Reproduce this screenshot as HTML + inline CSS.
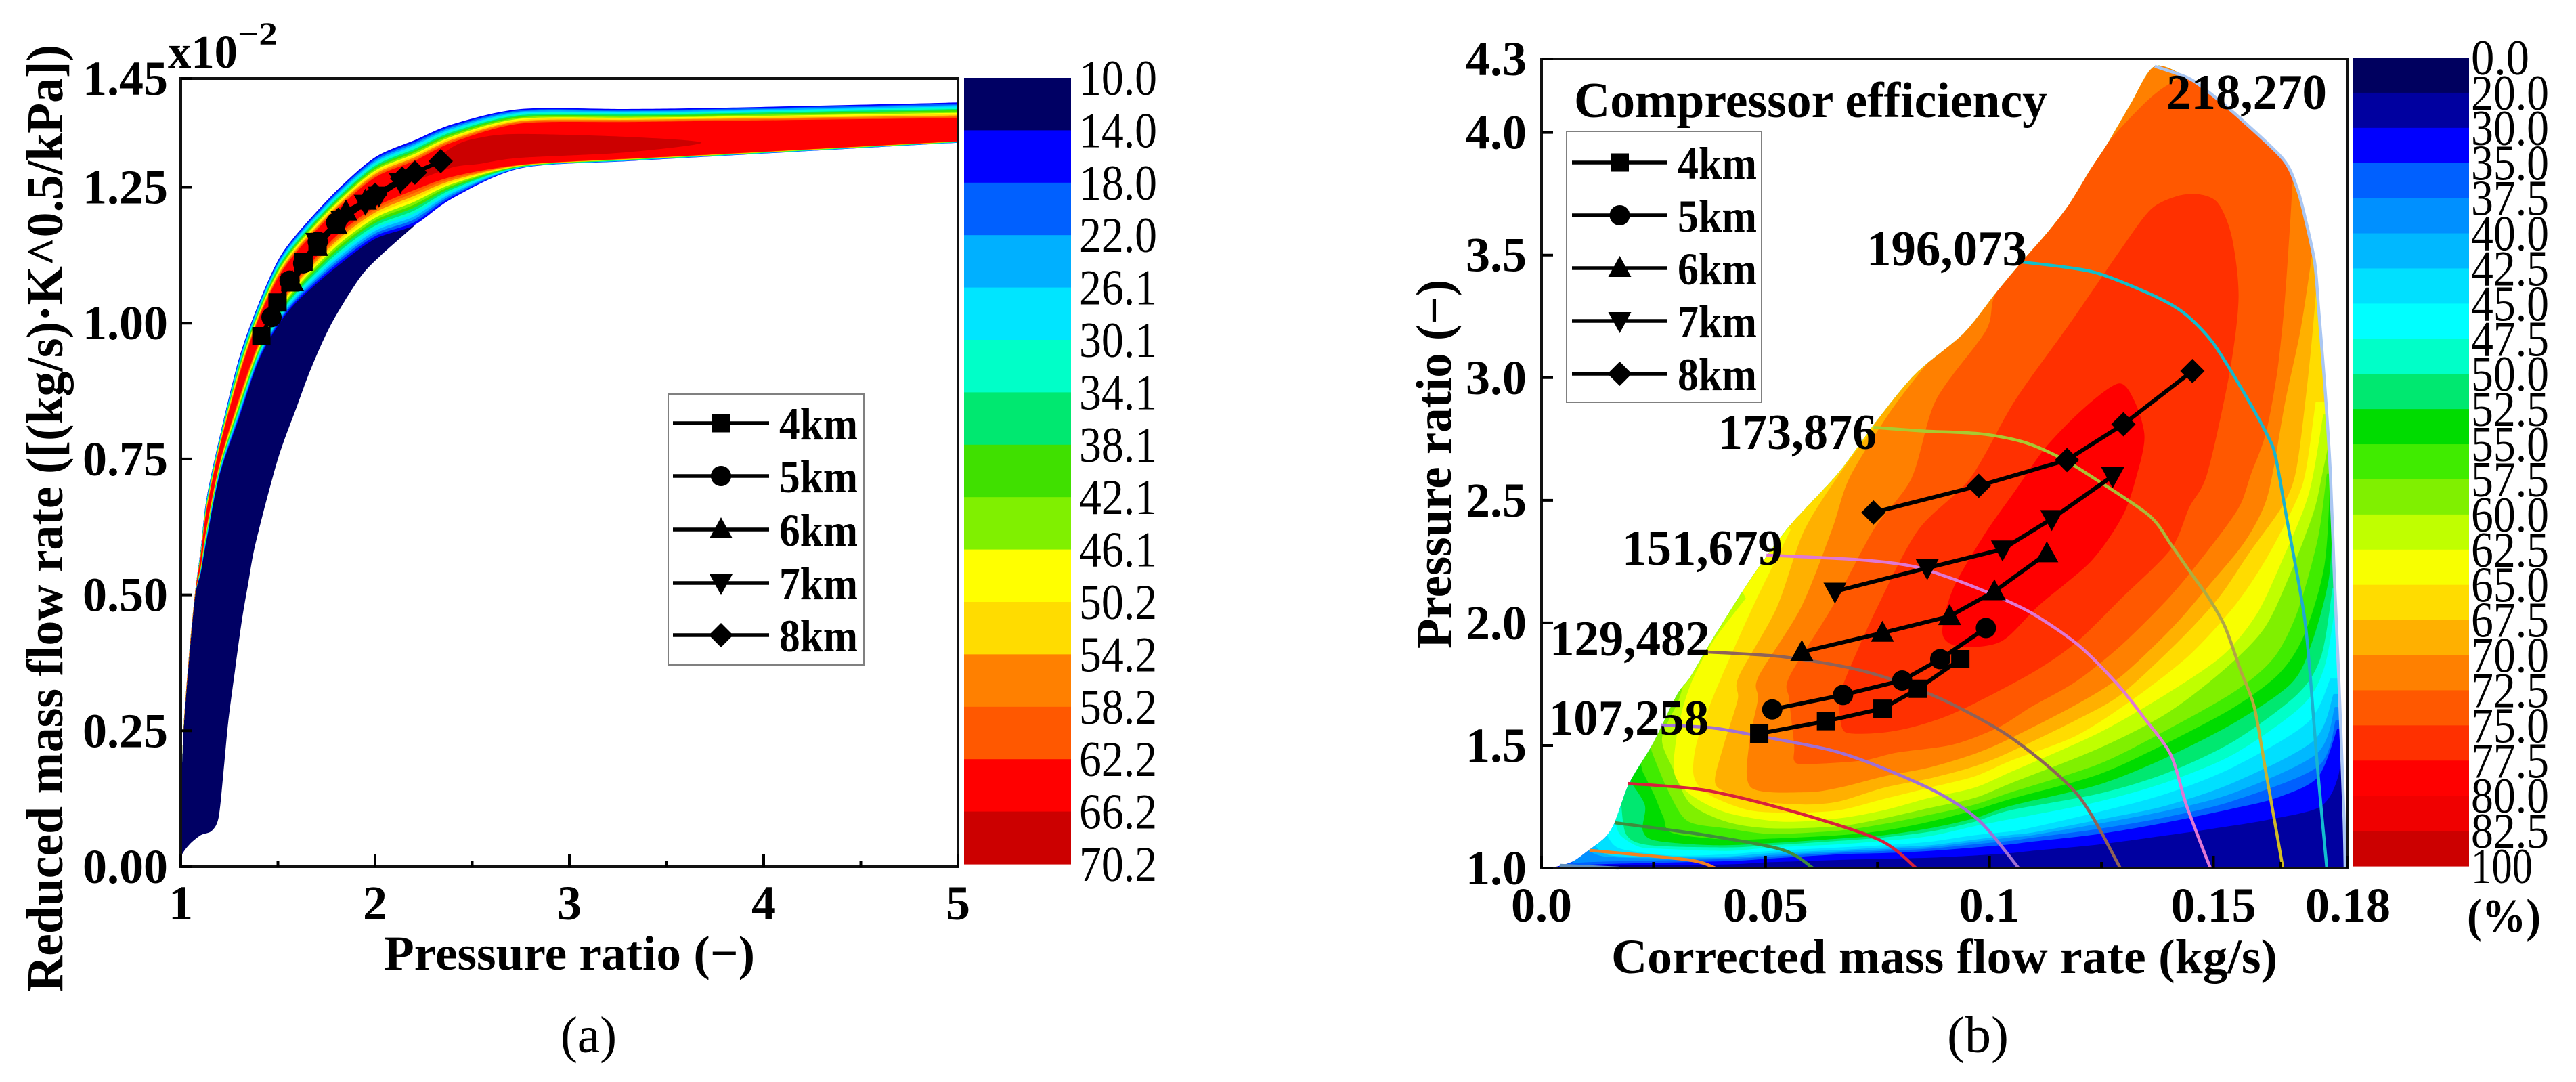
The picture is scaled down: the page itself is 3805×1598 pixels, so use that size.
<!DOCTYPE html>
<html lang="en">
<head>
<meta charset="utf-8">
<title>Turbine and compressor efficiency maps</title>
<style>
html,body{margin:0;padding:0;background:#fff;width:3805px;height:1598px;overflow:hidden}
svg{display:block}
text{font-family:"Liberation Serif",serif;font-weight:bold;fill:#000}
</style>
</head>
<body>
<svg id="fig" xmlns="http://www.w3.org/2000/svg" width="3805" height="1598" viewBox="0 0 3805 1598">
  <defs>
    <clipPath id="envelopeClip"><path id="envelopeClipPath"></path></clipPath>
    <linearGradient id="grad173" gradientUnits="userSpaceOnUse" x1="0" y1="630" x2="0" y2="1282">
      <stop offset="0" stop-color="#a8cc30"/><stop offset="0.5" stop-color="#b0a048"/><stop offset="1" stop-color="#d8c020"/>
    </linearGradient>
    <linearGradient id="grad196" gradientUnits="userSpaceOnUse" x1="0" y1="387" x2="0" y2="1282">
      <stop offset="0" stop-color="#10c0cc"/><stop offset="0.6" stop-color="#20a8d0"/><stop offset="1" stop-color="#10c0d0"/>
    </linearGradient>
  </defs>
  <g id="panelA"></g>
  <g id="panelB"></g>

  <text x="567" y="1432" font-size="72" textLength="548" lengthAdjust="spacingAndGlyphs">Pressure ratio (−)</text>
  <text x="92" y="1465" font-size="76" transform="rotate(-90 92 1465)" textLength="1399" lengthAdjust="spacingAndGlyphs">Reduced mass flow rate ([(kg/s)·K^0.5/kPa])</text>
  <text x="248" y="100" font-size="70" textLength="103" lengthAdjust="spacingAndGlyphs">x10</text>
  <text x="351" y="66" font-size="48" textLength="59" lengthAdjust="spacingAndGlyphs">−2</text>
  <text x="828" y="1554" font-size="76" style="font-weight:normal" textLength="83" lengthAdjust="spacingAndGlyphs">(a)</text>

  <text x="2380" y="1437" font-size="72" textLength="984" lengthAdjust="spacingAndGlyphs">Corrected mass flow rate (kg/s)</text>
  <text x="2143" y="958" font-size="74" transform="rotate(-90 2143 958)" textLength="545" lengthAdjust="spacingAndGlyphs">Pressure ratio (−)</text>
  <text x="2325" y="173" font-size="74" textLength="699" lengthAdjust="spacingAndGlyphs">Compressor efficiency</text>
  <text x="3200" y="161" font-size="74" textLength="237" lengthAdjust="spacingAndGlyphs">218,270</text>
  <text x="2757" y="392" font-size="74" textLength="237" lengthAdjust="spacingAndGlyphs">196,073</text>
  <text x="2538" y="663" font-size="74" textLength="234" lengthAdjust="spacingAndGlyphs">173,876</text>
  <text x="2396" y="834" font-size="74" textLength="237" lengthAdjust="spacingAndGlyphs">151,679</text>
  <text x="2289" y="968" font-size="74" textLength="237" lengthAdjust="spacingAndGlyphs">129,482</text>
  <text x="2288" y="1085" font-size="74" textLength="236" lengthAdjust="spacingAndGlyphs">107,258</text>
  <text x="3644" y="1376" font-size="70" textLength="109" lengthAdjust="spacingAndGlyphs">(%)</text>
  <text x="2876" y="1554" font-size="76" style="font-weight:normal" textLength="91" lengthAdjust="spacingAndGlyphs">(b)</text>
</svg>

<script>
/* ---------- Panel (a): axis ticks and colour scale ---------- */
const turbineXTicks = [1, 2, 3, 4, 5];
const turbineXMinorTicks = [1.5, 2.5, 3.5, 4.5];
const turbineYTicks = [0, 0.25, 0.5, 0.75, 1.0, 1.25, 1.45];
const turbineYTickLabels = ["0.00", "0.25", "0.50", "0.75", "1.00", "1.25", "1.45"];
const turbineScaleLabels = ["10.0","14.0","18.0","22.0","26.1","30.1","34.1","38.1","42.1","46.1","50.2","54.2","58.2","62.2","66.2","70.2"];
const turbineScaleFills = ["#000064","#0000ff","#0060ff","#00b0ff","#00e5ff","#00ffc8","#00e870","#40e000","#80f000","#ffff00","#ffdc00","#ff8000","#ff5800","#ff0000","#cc0000"];

/* Panel (a): map envelope (pressure ratio vs reduced flow) */
const turbinePR = [1.005,1.016,1.045,1.074,1.103,1.132,1.2,1.3,1.4,1.5,1.6,1.8,2.0,2.2,2.4,2.75,3.3,3.75,5.0];
const turbineFlowUpper = [0.171,0.265,0.399,0.505,0.585,0.675,0.79,0.935,1.035,1.115,1.165,1.243,1.305,1.336,1.366,1.394,1.394,1.396,1.406];
const turbineFlowLower = [0.171,0.26,0.39,0.498,0.54,0.598,0.72,0.825,0.93,0.995,1.04,1.103,1.155,1.18,1.23,1.285,1.298,1.307,1.332];
const turbineFlowRedUpper = [0.171,0.264,0.396,0.503,0.57,0.652,0.77,0.90,1.005,1.08,1.13,1.205,1.265,1.295,1.33,1.365,1.368,1.37,1.375];
const turbineFlowRedLower = [0.171,0.262,0.393,0.5,0.555,0.625,0.745,0.865,0.965,1.035,1.085,1.165,1.218,1.25,1.273,1.292,1.303,1.311,1.335];
const turbineCorePR = [2.2,2.404,2.537,2.739,3.28,3.68,3.28,2.739,2.537,2.404,2.2];
const turbineCoreFlow = [1.27,1.325,1.341,1.348,1.343,1.332,1.314,1.304,1.293,1.287,1.262];
const turbineLowEffPR = [1.0,1.005,1.045,1.103,1.16,1.195,1.22,1.244,1.279,1.314,1.348,1.387,1.5,1.598,1.672,1.777,1.923,2.031,2.205];
const turbineLowEffFlow = [0.0,0.021,0.041,0.058,0.066,0.091,0.174,0.265,0.361,0.452,0.523,0.598,0.75,0.847,0.918,1.0,1.084,1.125,1.18];

/* Panel (a): operating points per altitude */
const turbine4kmPR = [1.415,1.498,1.564,1.632,1.704];
const turbine4kmFlow = [0.976,1.038,1.075,1.113,1.146];
const turbine5kmPR = [1.467,1.56,1.63,1.705,1.80];
const turbine5kmFlow = [1.011,1.078,1.11,1.15,1.185];
const turbine6kmPR = [1.575,1.70,1.80,1.85,1.95];
const turbine6kmFlow = [1.075,1.14,1.18,1.205,1.225];
const turbine7kmPR = [1.70,1.83,1.95,2.02,2.13];
const turbine7kmFlow = [1.15,1.19,1.22,1.235,1.26];
const turbine8kmPR = [1.81,2.0,2.14,2.205,2.338];
const turbine8kmFlow = [1.19,1.236,1.266,1.277,1.298];

const legendLabels = ["4km","5km","6km","7km","8km"];
const legendMarkers = ["square","circle","up","down","diamond"];

/* ---------- Panel (b): axis ticks and colour scale ---------- */
const compressorXTicks = [0, 0.05, 0.1, 0.15, 0.18];
const compressorXTickLabels = ["0.0","0.05","0.1","0.15","0.18"];
const compressorXMinorTicks = [0.025, 0.075, 0.125, 0.165];
const compressorYTicks = [1.0,1.5,2.0,2.5,3.0,3.5,4.0,4.3];
const compressorYTickLabels = ["1.0","1.5","2.0","2.5","3.0","3.5","4.0","4.3"];
const compressorScaleLabels = ["0.0","20.0","30.0","35.0","37.5","40.0","42.5","45.0","47.5","50.0","52.5","55.0","57.5","60.0","62.5","65.0","67.5","70.0","72.5","75.0","77.5","80.0","82.5","100"];
const compressorScaleFills = ["#00005f","#0000a0","#0000ff","#0060ff","#0090ff","#00b8ff","#00e0ff","#00ffff","#00ffc8","#00e870","#00dc00","#40ec00","#80f000","#c0ff00","#f8ff00","#ffdc00","#ffb000","#ff8000","#ff5800","#ff3000","#ff0000","#f00000","#cc0000"];

/* Panel (b): map envelope, [corrected flow, pressure ratio] */
const mapEnvelope = [[0,1.0],[0.002,1.0],[0.0068,1.025],[0.0103,1.07],[0.0142,1.125],[0.0163,1.185],[0.0189,1.318],[0.0207,1.383],[0.025,1.512],[0.0302,1.705],[0.0332,1.779],[0.0379,1.925],[0.0449,2.129],[0.0494,2.25],[0.0556,2.4],[0.0663,2.612],[0.0748,2.823],[0.0834,3.014],[0.0942,3.18],[0.1012,3.34],[0.1072,3.472],[0.1133,3.6],[0.1179,3.71],[0.1224,3.845],[0.1264,3.956],[0.1315,4.116],[0.1369,4.27],[0.1445,4.221],[0.1496,4.155],[0.1561,4.055],[0.1656,3.89],[0.1687,3.771],[0.1705,3.649],[0.1726,3.47],[0.1735,3.275],[0.1745,3.05],[0.1753,2.85],[0.1761,2.608],[0.177,2.185],[0.178,1.762],[0.1791,1.235],[0.1794,1.0]];

/* Panel (b): efficiency contours, [flow, pressure ratio] */
const contour30 = [[0.002,1.0],[0.0146,1.01],[0.0413,1.015],[0.0513,1.024],[0.0665,1.033],[0.0765,1.038],[0.0866,1.042],[0.0967,1.051],[0.1048,1.061],[0.1093,1.07],[0.1244,1.096],[0.1395,1.133],[0.1496,1.16],[0.1622,1.197],[0.1738,1.25],[0.1778,1.371],[0.1789,1.551]];
const contour35 = [[0.004,1.0],[0.012,1.015],[0.0413,1.028],[0.0513,1.039],[0.0665,1.056],[0.0765,1.061],[0.0866,1.07],[0.0967,1.084],[0.1048,1.097],[0.1093,1.107],[0.1244,1.139],[0.1395,1.186],[0.1547,1.244],[0.1642,1.287],[0.1733,1.371],[0.1776,1.567]];
const contour375 = [[0.007,1.02],[0.0135,1.026],[0.0413,1.037],[0.0513,1.047],[0.0665,1.062],[0.0765,1.07],[0.0866,1.079],[0.0967,1.097],[0.1048,1.111],[0.1093,1.123],[0.1244,1.16],[0.1395,1.208],[0.1547,1.276],[0.1733,1.414],[0.1773,1.604]];
const contour40 = [[0.0105,1.07],[0.0141,1.047],[0.0242,1.04],[0.0413,1.042],[0.0513,1.053],[0.0665,1.068],[0.0765,1.077],[0.0866,1.086],[0.0967,1.107],[0.1048,1.125],[0.1093,1.133],[0.1244,1.181],[0.1395,1.234],[0.1547,1.308],[0.173,1.466],[0.1771,1.657]];
const contour425 = [[0.012,1.09],[0.0155,1.051],[0.029,1.045],[0.0413,1.047],[0.0513,1.061],[0.0665,1.074],[0.0765,1.084],[0.0866,1.093],[0.0967,1.116],[0.1048,1.135],[0.1093,1.144],[0.1244,1.197],[0.1395,1.255],[0.1547,1.35],[0.1723,1.519],[0.1768,1.71]];
const contour45 = [[0.0146,1.134],[0.0176,1.079],[0.0292,1.051],[0.0413,1.056],[0.0513,1.07],[0.0665,1.084],[0.0765,1.093],[0.0866,1.107],[0.0967,1.134],[0.1048,1.15],[0.1093,1.165],[0.1244,1.229],[0.1395,1.303],[0.1547,1.414],[0.171,1.593],[0.1761,1.773]];
const contour475 = [[0.0163,1.199],[0.0176,1.134],[0.0216,1.088],[0.0261,1.079],[0.0413,1.07],[0.0513,1.084],[0.0665,1.097],[0.0765,1.111],[0.0866,1.13],[0.0967,1.171],[0.1048,1.2],[0.1093,1.215],[0.1244,1.271],[0.1395,1.35],[0.1547,1.466],[0.1698,1.662],[0.1748,1.821],[0.1771,2.058]];
const contour50 = [[0.0178,1.254],[0.019,1.134],[0.0242,1.093],[0.0413,1.084],[0.0513,1.093],[0.0665,1.111],[0.0765,1.125],[0.0866,1.148],[0.0967,1.189],[0.1048,1.236],[0.1244,1.303],[0.1395,1.387],[0.1547,1.519],[0.1688,1.71],[0.1741,1.868],[0.1766,2.143]];
const contour525 = [[0.0201,1.346],[0.0231,1.254],[0.0226,1.153],[0.0257,1.111],[0.0387,1.093],[0.0513,1.102],[0.0665,1.12],[0.0765,1.134],[0.0866,1.162],[0.0967,1.203],[0.1048,1.254],[0.1244,1.34],[0.1395,1.451],[0.1547,1.593],[0.1673,1.752],[0.1718,1.91],[0.1758,2.185],[0.1766,2.481]];
const contour55 = [[0.0226,1.392],[0.0251,1.3],[0.0272,1.208],[0.0292,1.143],[0.0413,1.116],[0.0513,1.12],[0.0665,1.134],[0.0765,1.153],[0.0866,1.189],[0.0967,1.236],[0.1048,1.282],[0.1244,1.382],[0.1395,1.509],[0.1547,1.657],[0.1647,1.794],[0.1703,1.953],[0.1748,2.238],[0.1761,2.608]];
const contour575 = [[0.0246,1.475],[0.0277,1.337],[0.0312,1.217],[0.0342,1.18],[0.0413,1.162],[0.0513,1.139],[0.0665,1.153],[0.0765,1.18],[0.0866,1.217],[0.0967,1.259],[0.1048,1.309],[0.1244,1.424],[0.1395,1.562],[0.1547,1.72],[0.1635,1.858],[0.1688,2.048],[0.1733,2.344],[0.1753,2.608]];
const contour60 = [[0.0325,1.8],[0.0305,1.68],[0.0269,1.53],[0.0292,1.41],[0.0332,1.263],[0.0413,1.189],[0.0513,1.162],[0.0665,1.171],[0.0765,1.203],[0.0866,1.245],[0.0967,1.286],[0.1048,1.346],[0.1244,1.488],[0.1395,1.63],[0.1521,1.805],[0.1612,1.974],[0.1668,2.185],[0.1723,2.449],[0.1743,2.608],[0.1765,2.8]];
const contour625 = [[0.0456,2.1],[0.0385,1.93],[0.034,1.78],[0.0315,1.65],[0.0299,1.503],[0.0297,1.383],[0.0332,1.3],[0.0413,1.226],[0.0538,1.189],[0.0665,1.203],[0.0765,1.236],[0.0866,1.286],[0.0967,1.328],[0.1048,1.392],[0.1244,1.551],[0.1395,1.71],[0.1521,1.868],[0.1597,2.037],[0.1652,2.249],[0.1703,2.471],[0.1723,2.608],[0.1745,2.85]];
const contour65 = [[0.0556,2.379],[0.0471,2.062],[0.0402,1.78],[0.0375,1.66],[0.0345,1.5],[0.034,1.374],[0.0373,1.3],[0.0463,1.236],[0.0564,1.226],[0.0665,1.236],[0.0765,1.282],[0.0866,1.328],[0.0967,1.374],[0.1048,1.438],[0.1194,1.54],[0.132,1.688],[0.1446,1.868],[0.1547,2.069],[0.1617,2.259],[0.1678,2.471],[0.1705,2.608],[0.1728,2.9]];
const contour675 = [[0.0745,2.8],[0.0679,2.643],[0.0587,2.379],[0.0525,2.062],[0.044,1.779],[0.0438,1.687],[0.0407,1.503],[0.0387,1.355],[0.0413,1.309],[0.0488,1.272],[0.0589,1.259],[0.0665,1.272],[0.0765,1.328],[0.0866,1.365],[0.0967,1.415],[0.1048,1.475],[0.1194,1.604],[0.1295,1.71],[0.142,1.921],[0.1511,2.101],[0.1582,2.291],[0.1652,2.471],[0.1683,2.608],[0.1705,2.9],[0.1722,3.2],[0.174,3.6]];
const contour70 = [[0.0895,3.13],[0.0841,3.013],[0.0772,2.844],[0.0687,2.59],[0.0648,2.379],[0.0579,2.062],[0.0484,1.779],[0.0483,1.687],[0.0463,1.503],[0.0468,1.328],[0.0589,1.309],[0.0665,1.328],[0.0765,1.374],[0.0866,1.41],[0.0967,1.466],[0.1048,1.53],[0.1194,1.667],[0.1295,1.784],[0.141,1.984],[0.149,2.153],[0.1567,2.323],[0.1612,2.471],[0.1632,2.608],[0.166,2.9],[0.1695,3.2],[0.172,3.5]];
const contour725 = [[0.0564,1.503],[0.0564,1.438],[0.0589,1.424],[0.0715,1.438],[0.0791,1.47],[0.0917,1.503],[0.1018,1.572],[0.1093,1.657],[0.1194,1.762],[0.1295,1.91],[0.1405,2.111],[0.149,2.301],[0.1557,2.471],[0.1584,2.608],[0.1617,2.773],[0.1642,3.02],[0.1657,3.266],[0.1667,3.513],[0.1675,3.76],[0.1672,3.9],[0.1561,4.07],[0.1496,4.17],[0.1446,4.23],[0.1395,4.191],[0.1345,4.117],[0.1264,3.957],[0.1168,3.71],[0.1133,3.6],[0.1017,3.353],[0.0992,3.192],[0.088,2.907],[0.0826,2.59],[0.0741,2.379],[0.0648,2.062],[0.0553,1.779],[0.0553,1.687]];
const contour75 = [[0.068,1.779],[0.0665,1.687],[0.067,1.576],[0.069,1.549],[0.0765,1.553],[0.0841,1.581],[0.0932,1.641],[0.1093,1.794],[0.1194,1.921],[0.1295,2.101],[0.1405,2.301],[0.1446,2.471],[0.1486,2.608],[0.1536,3.02],[0.1556,3.328],[0.1541,3.574],[0.1511,3.71],[0.1471,3.747],[0.142,3.741],[0.136,3.686],[0.1294,3.525],[0.1181,3.225],[0.1057,2.907],[0.0957,2.59],[0.0841,2.379],[0.0749,2.062]];
const contour775 = [[0.1288,2.976],[0.1323,2.907],[0.1346,2.76],[0.1327,2.59],[0.1296,2.432],[0.1227,2.252],[0.1111,2.072],[0.1026,1.924],[0.0934,1.903],[0.0895,1.956],[0.0918,2.136],[0.0988,2.358],[0.1057,2.538],[0.1126,2.717],[0.1211,2.876]];

const openContours = [contour30,contour35,contour375,contour40,contour425,contour45,contour475,contour50,contour525,contour55,contour575,contour60,contour625,contour65,contour675,contour70];
const closedContours = [contour725,contour75,contour775];
const contourNames = ["30","35","37-5","40","42-5","45","47-5","50","52-5","55","57-5","60","62-5","65","67-5","70","72-5","75","77-5"];

/* Panel (b): corrected-speed lines, [flow, pressure ratio] */
const speed218270 = [[0.1369,4.27],[0.1445,4.221],[0.1496,4.155],[0.1561,4.055],[0.1656,3.89],[0.1687,3.771],[0.1705,3.649],[0.1726,3.47],[0.1735,3.275],[0.1745,3.05],[0.1753,2.85],[0.1761,2.608],[0.177,2.185],[0.178,1.762],[0.1791,1.235],[0.1794,1.0]];
const speed196073 = [[0.1072,3.472],[0.1229,3.432],[0.136,3.34],[0.1433,3.265],[0.1498,3.144],[0.1566,2.945],[0.1622,2.76],[0.1639,2.674],[0.1662,2.442],[0.1702,2.036],[0.1717,1.762],[0.1732,1.414],[0.1753,1.0]];
const speed173876 = [[0.0741,2.797],[0.0857,2.782],[0.098,2.771],[0.1073,2.739],[0.115,2.681],[0.1218,2.608],[0.1355,2.44],[0.1405,2.32],[0.1445,2.215],[0.149,2.1],[0.1526,1.983],[0.1561,1.804],[0.1591,1.657],[0.1617,1.392],[0.1655,1.0]];
const speed151679 = [[0.0502,2.276],[0.071,2.257],[0.0826,2.232],[0.0903,2.189],[0.0996,2.124],[0.1093,2.041],[0.1198,1.91],[0.1285,1.751],[0.1345,1.613],[0.1405,1.461],[0.144,1.254],[0.1493,1.0]];
const speed129482 = [[0.0372,1.881],[0.0537,1.862],[0.0692,1.815],[0.0796,1.76],[0.0917,1.668],[0.1056,1.522],[0.1198,1.296],[0.1292,1.0]];
const speed107258 = [[0.0267,1.583],[0.038,1.572],[0.0484,1.539],[0.0641,1.483],[0.0745,1.42],[0.0883,1.309],[0.0979,1.19],[0.1065,1.0]];
const speedRed = [[0.0193,1.345],[0.0363,1.318],[0.0553,1.235],[0.0753,1.116],[0.0836,1.0]];
const speedGreen = [[0.0163,1.185],[0.0363,1.135],[0.0537,1.075],[0.0606,1.0]];
const speedOrange = [[0.0107,1.072],[0.0328,1.033],[0.0388,1.0]];
const speedSlate = [[0.0042,1.011],[0.0172,1.0]];

/* Panel (b): operating points per altitude */
const compressor4kmFlow = [0.0486,0.0635,0.0761,0.084,0.0935];
const compressor4kmPR = [1.548,1.599,1.65,1.731,1.852];
const compressor5kmFlow = [0.0515,0.0673,0.0805,0.089,0.0992];
const compressor5kmPR = [1.647,1.706,1.765,1.852,1.979];
const compressor6kmFlow = [0.0581,0.0761,0.0911,0.1011,0.1128];
const compressor6kmPR = [1.881,1.959,2.027,2.128,2.283];
const compressor7kmFlow = [0.0655,0.0861,0.1029,0.1139,0.1275];
const compressor7kmPR = [2.128,2.224,2.3,2.424,2.599];
const compressor8kmFlow = [0.0741,0.0976,0.1173,0.1299,0.1453];
const compressor8kmPR = [2.45,2.559,2.664,2.81,3.027];

/* ---------- Axis functions ---------- */
const aBox = {l:267, r:1415, t:116, b:1280};
const bBox = {l:2277, r:3468, t:87, b:1282};
function xA(v){ return aBox.l + (v - 1) / 4 * (aBox.r - aBox.l); }
function yA(v){ return aBox.b - v / 1.45 * (aBox.b - aBox.t); }
function xB(v){ return bBox.l + v / 0.18 * (bBox.r - bBox.l); }
function yB(v){ return bBox.b - (v - 1) / 3.3 * (bBox.b - bBox.t); }

const NS = "http://www.w3.org/2000/svg";
function mk(tag, attrs, parent){
  const n = document.createElementNS(NS, tag);
  for (const k in attrs) n.setAttribute(k, attrs[k]);
  parent.appendChild(n);
  return n;
}
function polyD(pts){
  return pts.map((p, i) => (i ? "L" : "M") + p[0].toFixed(1) + " " + p[1].toFixed(1)).join(" ");
}
function splineD(pts, closed){
  const n = pts.length, t = 1 / 7;
  const at = i => closed ? pts[(i + n) % n] : pts[Math.max(0, Math.min(n - 1, i))];
  let d = "M" + pts[0][0].toFixed(1) + " " + pts[0][1].toFixed(1);
  const segs = closed ? n : n - 1;
  for (let i = 0; i < segs; i++) {
    const p0 = at(i - 1), p1 = at(i), p2 = at(i + 1), p3 = at(i + 2);
    d += " C" + (p1[0] + (p2[0] - p0[0]) * t).toFixed(1) + " " + (p1[1] + (p2[1] - p0[1]) * t).toFixed(1) +
         " " + (p2[0] - (p3[0] - p1[0]) * t).toFixed(1) + " " + (p2[1] - (p3[1] - p1[1]) * t).toFixed(1) +
         " " + p2[0].toFixed(1) + " " + p2[1].toFixed(1);
  }
  return d + (closed ? " Z" : "");
}
function markerD(kind, x, y){
  if (kind === "square") return `M${x-13.5} ${y-13.5}H${x+13.5}V${y+13.5}H${x-13.5}Z`;
  if (kind === "circle") return `M${x-15} ${y}A15 15 0 1 0 ${x+15} ${y}A15 15 0 1 0 ${x-15} ${y}Z`;
  if (kind === "up") return `M${x} ${y-18}L${x+17} ${y+13}H${x-17}Z`;
  if (kind === "down") return `M${x} ${y+18}L${x+17} ${y-13}H${x-17}Z`;
  return `M${x} ${y-18}L${x+18} ${y}L${x} ${y+18}L${x-18} ${y}Z`;
}
function drawTick(parent, x1, y1, x2, y2, name){
  const el = mk("line", {x1:x1, y1:y1, x2:x2, y2:y2, stroke:"#000", "stroke-width":4}, parent);
  
  
}
function drawLabel(parent, str, x, y, size, anchor, name){
  const el = mk("text", {x:x, y:y, "font-size":size, "text-anchor":anchor}, parent);
  el.textContent = str;
  
  
}
function drawFrame(parent, box, name){
  const el = mk("rect", {x:box.l, y:box.t, width:box.r-box.l, height:box.b-box.t, fill:"none", stroke:"#111", "stroke-width":4}, parent);
  
  
}
function drawSeries(parent, xs, ys, fx, fy, kind, name){
  const g = mk("g", {}, parent);
  
  
  const pts = xs.map((v, i) => [fx(v), fy(ys[i])]);
  mk("path", {d:polyD(pts), fill:"none", stroke:"#000", "stroke-width":6}, g);
  pts.forEach(p => {
    const m = mk("path", {d:markerD(kind, p[0], p[1]), fill:"#000"}, g);
    
    
  });
}
function drawLegend(parent, box, name){
  const g = mk("g", {}, parent);
  
  
  mk("rect", {x:box.x, y:box.y, width:box.w, height:box.h, fill:"#fff", stroke:"#808080", "stroke-width":2}, g);
  legendLabels.forEach((lab, i) => {
    const y = box.rows[i];
    const e = mk("g", {}, g);
    
    
    mk("line", {x1:box.lineL, x2:box.lineR, y1:y, y2:y, stroke:"#000", "stroke-width":5.5}, e);
    mk("path", {d:markerD(legendMarkers[i], (box.lineL + box.lineR) / 2, y), fill:"#000"}, e);
    const t = mk("text", {x:box.textX, y:y + 24, "font-size":68, textLength:box.textW, lengthAdjust:"spacingAndGlyphs"}, e);
    t.textContent = lab;
  });
}
function drawColorScale(parent, x, w, top, bottom, fills, labels, labelX, size, name){
  const g = mk("g", {}, parent);
  
  
  const h = (bottom - top) / fills.length;
  fills.forEach((f, i) => {
    const r = mk("rect", {x:x, y:top + i * h, width:w, height:h + 0.6, fill:f}, g);
    
    
  });
  labels.forEach((s, i) => {
    const widths = s.length >= 4 ? 115 : (s === "100" ? 91 : 86);
    const t = mk("text", {x:labelX, y:top + i * h + 25, "font-size":size, textLength:widths, lengthAdjust:"spacingAndGlyphs", style:"font-weight:normal"}, g);
    t.textContent = s;
    
    
  });
}

/* ---------- Panel (a) ---------- */
const pa = document.getElementById("panelA");
const aPlot = mk("g", {}, pa);



const lowEffPts = turbineLowEffPR.map((v, i) => [xA(v), yA(turbineLowEffFlow[i])]);
const upperPts = [];
for (let i = 0; i < turbinePR.length; i++) {
  if (turbinePR[i] <= 2.205) upperPts.push([xA(turbinePR[i]), yA(turbineFlowUpper[i])]);
}
const lowEffBand = mk("path", {d:splineD(lowEffPts, false) + " " + splineD(upperPts.reverse(), false).replace("M", "L") + " L" + xA(1) + " " + yA(0.171) + " Z", fill:turbineScaleFills[0]}, aPlot);



for (let k = 1; k <= 13; k++) {
  const f = (k - 1) / 13;
  const top = turbinePR.map((v, i) => [xA(v), yA(turbineFlowUpper[i] + (turbineFlowRedUpper[i] - turbineFlowUpper[i]) * f)]);
  const bot = turbinePR.map((v, i) => [xA(v), yA(turbineFlowLower[i] + (turbineFlowRedLower[i] - turbineFlowLower[i]) * f)]).reverse();
  const band = mk("path", {d:splineD(top, false) + " " + splineD(bot, false).replace("M", "L") + " Z", fill:turbineScaleFills[k]}, aPlot);
  
  
}
const core = mk("path", {d:splineD(turbineCorePR.map((v, i) => [xA(v), yA(turbineCoreFlow[i])]), true), fill:turbineScaleFills[14]}, aPlot);



drawSeries(pa, turbine4kmPR, turbine4kmFlow, xA, yA, "square", "series-4km");
drawSeries(pa, turbine5kmPR, turbine5kmFlow, xA, yA, "circle", "series-5km");
drawSeries(pa, turbine6kmPR, turbine6kmFlow, xA, yA, "up", "series-6km");
drawSeries(pa, turbine7kmPR, turbine7kmFlow, xA, yA, "down", "series-7km");
drawSeries(pa, turbine8kmPR, turbine8kmFlow, xA, yA, "diamond", "series-8km");

drawFrame(pa, aBox, "turbine-plot-frame");
turbineXTicks.forEach(v => {
  drawTick(pa, xA(v), aBox.b, xA(v), aBox.b - 18, 'x-tick');
  drawLabel(pa, String(v), xA(v), 1358, 72, "middle", 'x-tick-label');
});
turbineXMinorTicks.forEach(v => {
  drawTick(pa, xA(v), aBox.b, xA(v), aBox.b - 9, 'x-minor-tick');
});
turbineYTicks.forEach((v, i) => {
  drawTick(pa, aBox.l, yA(v), aBox.l + 17, yA(v), 'y-tick');
  drawLabel(pa, turbineYTickLabels[i], 248, yA(v) + 24, 72, "end", 'y-tick-label');
});
drawLegend(pa, {x:987, y:582, w:289, h:400, rows:[625,703,782,861,938], lineL:994, lineR:1136, textX:1151, textW:116}, 'turbine-legend');
drawColorScale(pa, 1424, 158, 115, 1276, turbineScaleFills, turbineScaleLabels, 1594, 74, 'turbine-efficiency-colorbar');

/* ---------- Panel (b) ---------- */
const pb = document.getElementById("panelB");
const toPx = p => [xB(p[0]), yB(p[1])];
document.getElementById("envelopeClipPath").setAttribute("d", splineD(mapEnvelope.map(toPx), false) + " Z");
const bPlot = mk("g", {"clip-path":"url(#envelopeClip)"}, pb);


const baseBand = mk("rect", {x:bBox.l, y:bBox.t, width:bBox.r-bBox.l, height:bBox.b-bBox.t, fill:compressorScaleFills[1]}, bPlot);



openContours.forEach((c, i) => {
  const pts = c.map(toPx);
  const last = pts[pts.length - 1];
  const d = splineD(pts, false) + " L" + xB(0.2) + " " + last[1].toFixed(1) + " L" + xB(0.2) + " " + yB(4.6) + " L" + xB(-0.02) + " " + yB(4.6) + " Z";
  const band = mk("path", {d:d, fill:compressorScaleFills[i + 2]}, bPlot);
  
  
});
closedContours.forEach((c, i) => {
  const band = mk("path", {d:splineD(c.map(toPx), true), fill:compressorScaleFills[i + 18]}, bPlot);
  
  
});

function drawSpeed(pts, color, name){
  const el = mk("path", {d:splineD(pts.map(toPx), false), fill:"none", stroke:color, "stroke-width":4.5, "stroke-linejoin":"round"}, pb);
  
  
}
drawSpeed(speed218270, "#a9c6f2", "speed-line-218270");
drawSpeed(speed196073, "url(#grad196)", "speed-line-196073");
drawSpeed(speed173876, "url(#grad173)", "speed-line-173876");
drawSpeed(speed151679, "#e078d4", "speed-line-151679");
drawSpeed(speed129482, "#8f6258", "speed-line-129482");
drawSpeed(speed107258, "#a070d4", "speed-line-107258");
drawSpeed(speedRed, "#d8203c", "speed-line-red");
drawSpeed(speedGreen, "#3f8c3c", "speed-line-green");
drawSpeed(speedOrange, "#f2801e", "speed-line-orange");
drawSpeed(speedSlate, "#5f8fbf", "speed-line-slate");

drawSeries(pb, compressor4kmFlow, compressor4kmPR, xB, yB, "square", "series-4km");
drawSeries(pb, compressor5kmFlow, compressor5kmPR, xB, yB, "circle", "series-5km");
drawSeries(pb, compressor6kmFlow, compressor6kmPR, xB, yB, "up", "series-6km");
drawSeries(pb, compressor7kmFlow, compressor7kmPR, xB, yB, "down", "series-7km");
drawSeries(pb, compressor8kmFlow, compressor8kmPR, xB, yB, "diamond", "series-8km");

drawFrame(pb, bBox, "compressor-plot-frame");
compressorXTicks.forEach((v, i) => {
  drawTick(pb, xB(v), bBox.b, xB(v), bBox.b - 18, 'x-tick');
  drawLabel(pb, compressorXTickLabels[i], xB(v), 1361, 72, "middle", 'x-tick-label');
});
compressorXMinorTicks.forEach(v => {
  drawTick(pb, xB(v), bBox.b, xB(v), bBox.b - 9, 'x-minor-tick');
});
compressorYTicks.forEach((v, i) => {
  drawTick(pb, bBox.l, yB(v), bBox.l + 17, yB(v), 'y-tick');
  drawLabel(pb, compressorYTickLabels[i], 2255, yB(v) + 24, 72, "end", 'y-tick-label');
});
drawLegend(pb, {x:2314, y:194, w:288, h:400, rows:[240,318,396,474,552], lineL:2322, lineR:2463, textX:2478, textW:117}, 'compressor-legend');
drawColorScale(pb, 3475, 172, 85, 1279, compressorScaleFills, compressorScaleLabels, 3650, 74, 'compressor-efficiency-colorbar');

/* Keep the overlaid text above the plotted marks */
const fig = document.getElementById("fig");
Array.from(fig.querySelectorAll(":scope > text")).forEach(t => fig.appendChild(t));
</script>
</body>
</html>
